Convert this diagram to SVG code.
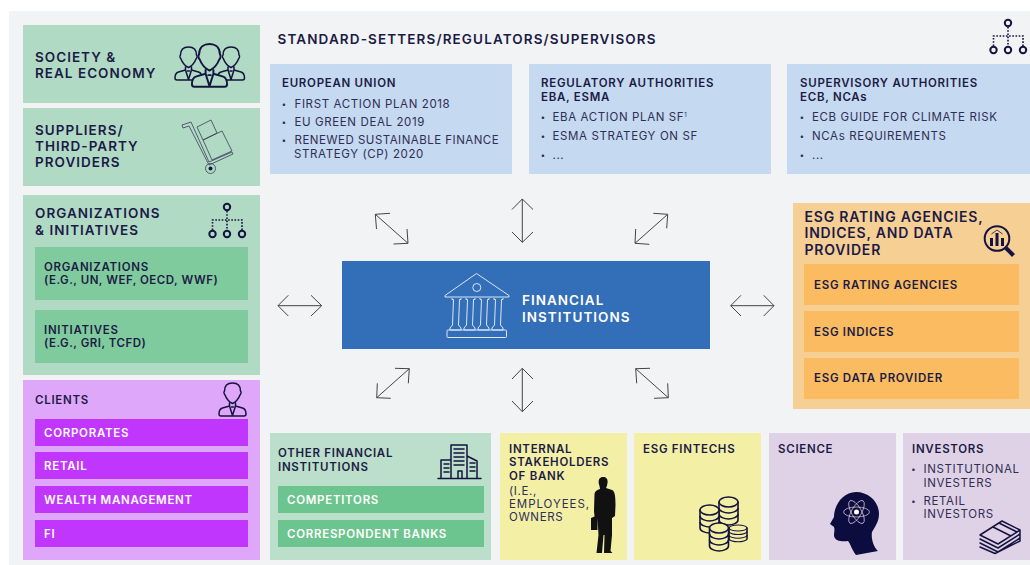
<svg xmlns="http://www.w3.org/2000/svg" width="1030" height="565" viewBox="0 0 1030 565">
<style>
text{font-family:Inter,"Liberation Sans",sans-serif;fill:#1c1b45;font-weight:600;font-size:11.5px;letter-spacing:.72px}
.h{font-size:13.5px;letter-spacing:1.02px}
.b{font-weight:400;fill:#2f2e55;letter-spacing:.62px}
.bu{font-weight:700;font-size:8px;fill:#2f2e55}
.n{letter-spacing:.5px}
.w{fill:#fff}
.i{fill:none;stroke:#15133f;stroke-width:1.5;stroke-linejoin:round;stroke-linecap:round}
.p{stroke:#15133f;stroke-width:1.5;stroke-linejoin:round;stroke-linecap:round}
.c{fill:#f3f0a6;stroke:#15133f;stroke-width:1.6;stroke-linejoin:round}
.o{fill:none;stroke:#15133f;stroke-width:2}
.d{fill:none;stroke:#15133f;stroke-width:1.6;stroke-dasharray:1.6 1.6}
.a{fill:none;stroke:#444;stroke-width:1}
</style>
<defs>
<g id="org"><circle cx="18" cy="4" r="3.200" class="o"/><circle cx="3.500" cy="31" r="3.200" class="o"/><circle cx="18" cy="31" r="3.200" class="o"/><circle cx="33" cy="31" r="3.200" class="o"/><path class="d" d="M18 8V27M3.500 27V17H33V27"/></g>
<g id="person"><path class="p" d="M-8 -9C-8 -15 -4 -17 0 -17S8 -15 8 -9C9 -8 8.500 -6 7.500 -5C6 -1 3 2 0 3.500C-3 2 -6 -1 -7.500 -5C-8.500 -6 -9 -8 -8 -9ZM-3 3V6L-10 8C-13.500 9 -13.500 12 -13.500 14Q-13.500 16 -11.500 16H11.500Q13.500 16 13.500 14C13.500 12 13.500 9 10 8L3 6V3M-3 6L0 15.500L3 6M-1 7H1"/></g>
<g id="coin"><path class="c" d="M-9.500 0V18C-9.500 21 -4 23 0 23S9.500 21 9.500 18V0Z"/><ellipse cx="0" cy="0" rx="9.500" ry="5" class="c"/><path class="c" style="fill:none" d="M-9.500 6C-9.500 9 -4 11 0 11S9.500 9 9.500 6M-9.500 12C-9.500 15 -4 17 0 17S9.500 15 9.500 12"/></g>
</defs>

<rect x="9" y="11" width="1021" height="554" fill="#f1f3f5"/>

<g id="society"><rect x="23" y="25" width="237" height="78" fill="#b1dac5"/>
<text class="h" x="35" y="62">SOCIETY &amp;</text><text class="h" x="35" y="78">REAL ECONOMY</text>
<use href="#person" transform="translate(188.500 64)" fill="none"/><use href="#person" transform="translate(231 64)" fill="none"/><use href="#person" transform="translate(209.500 66) scale(1.300)" fill="#b1dac5"/></g>

<g id="suppliers"><rect x="23" y="108" width="237" height="78" fill="#b1dac5"/>
<text class="h" x="35" y="135">SUPPLIERS/</text><text class="h" x="35" y="151">THIRD-PARTY</text><text class="h" x="35" y="167">PROVIDERS</text>
<g fill="none" stroke="#3c3c58" stroke-width=".8" stroke-linejoin="round"><path d="M182 125L191 122L209 162L232 152L233 154L209 165L189 126L183 128Z"/><path d="M197 127L211 120L217 133L203 140ZM203 140L222 131L232 151L212 160Z"/><circle cx="210.500" cy="168.500" r="5"/></g><circle cx="210.500" cy="168.500" r="2" fill="#15133f"/></g>

<g id="organizations"><rect x="23" y="195" width="237" height="180" fill="#b1dac5"/>
<text class="h" x="35" y="218">ORGANIZATIONS</text><text class="h" x="35" y="235">&amp; INITIATIVES</text>
<use href="#org" transform="translate(209 203)"/>
<rect x="35" y="247" width="213" height="53" fill="#80cb9e"/><text x="44" y="271">ORGANIZATIONS</text><text class="n" x="44" y="284">(E.G., UN, WEF, OECD, WWF)</text>
<rect x="35" y="310" width="213" height="53" fill="#80cb9e"/><text x="44" y="334">INITIATIVES</text><text class="n" x="44" y="347">(E.G., GRI, TCFD)</text></g>

<g id="clients"><rect x="23" y="380" width="237" height="180" fill="#dfa7f9"/>
<text x="35" y="404">CLIENTS</text><use href="#person" transform="translate(232.500 400)" fill="none"/>
<rect x="35" y="419" width="213" height="27" fill="#c136fd"/><text class="w" x="44" y="437">CORPORATES</text>
<rect x="35" y="452" width="213" height="27" fill="#c136fd"/><text class="w" x="44" y="470">RETAIL</text>
<rect x="35" y="486" width="213" height="27" fill="#c136fd"/><text class="w" x="44" y="504">WEALTH MANAGEMENT</text>
<rect x="35" y="520" width="213" height="27" fill="#c136fd"/><text class="w" x="44" y="538">FI</text></g>

<g id="standard-setters"><text class="h" x="277.500" y="44" style="letter-spacing:1.12px">STANDARD-SETTERS/REGULATORS/SUPERVISORS</text><use href="#org" transform="translate(990 19)"/></g>

<g id="eu"><rect x="270" y="64" width="242" height="110" fill="#c5d9f0"/>
<text x="282" y="87">EUROPEAN UNION</text>
<text class="bu" x="282" y="106.500">•</text><text class="b" x="294.500" y="108">FIRST ACTION PLAN 2018</text>
<text class="bu" x="282" y="124.500">•</text><text class="b" x="294.500" y="126">EU GREEN DEAL 2019</text>
<text class="bu" x="282" y="142.500">•</text><text class="b" x="294.500" y="144" style="letter-spacing:.48px">RENEWED SUSTAINABLE FINANCE</text><text class="b" x="294" y="158">STRATEGY (CP) 2020</text></g>

<g id="regulatory"><rect x="529" y="64" width="242" height="110" fill="#c5d9f0"/>
<text x="541" y="87">REGULATORY AUTHORITIES</text><text x="541" y="101">EBA, ESMA</text>
<text class="bu" x="541" y="120">•</text><text class="b" x="552.500" y="121">EBA ACTION PLAN SF<tspan font-size="6" dy="-4">1</tspan></text>
<text class="bu" x="541" y="139">•</text><text class="b" x="552.500" y="140">ESMA STRATEGY ON SF</text>
<text class="bu" x="541" y="158">•</text><text class="b" x="552.500" y="159">...</text></g>

<g id="supervisory"><rect x="787" y="64" width="243" height="110" fill="#c5d9f0"/>
<text x="800" y="87">SUPERVISORY AUTHORITIES</text><text x="800" y="101">ECB, NCAs</text>
<text class="bu" x="800" y="120">•</text><text class="b" x="812" y="121">ECB GUIDE FOR CLIMATE RISK</text>
<text class="bu" x="800" y="139">•</text><text class="b" x="812" y="140">NCAs REQUIREMENTS</text>
<text class="bu" x="800" y="158">•</text><text class="b" x="812" y="159">...</text></g>

<g id="financial-institutions"><rect x="342" y="261" width="368" height="88" fill="#336eb8"/>
<g fill="none" stroke="#dbe6f5" stroke-width="1"><path d="M476.500 273.500L445 295.500V297H509V295.500Z"/><circle cx="476.800" cy="287.500" r="4"/><rect x="447" y="330" width="59.500" height="7.500" rx="1"/>
<path d="M452 298V299.500H453.500L452.500 325L450 328V330H461V328L458.500 325L459.500 299.500H461V298M466 298V299.500H467.500L466.500 325L464 328V330H475V328L472.500 325L473.500 299.500H475V298M480 298V299.500H481.500L480.500 325L478 328V330H489V328L486.500 325L487.500 299.500H489V298M494 298V299.500H495.500L494.500 325L492 328V330H503V328L500.500 325L501.500 299.500H503V298"/></g>
<text class="h w" x="522" y="305">FINANCIAL</text><text class="h w" x="522" y="322">INSTITUTIONS</text></g>

<g id="esg-rating"><rect x="793" y="203" width="237" height="206" fill="#f6cf95"/>
<text class="h" x="804.500" y="222" style="font-size:14px;letter-spacing:.8px">ESG RATING AGENCIES,</text><text class="h" x="804.500" y="238" style="font-size:14px;letter-spacing:.8px">INDICES, AND DATA</text><text class="h" x="804.500" y="255" style="font-size:14px;letter-spacing:.8px">PROVIDER</text>
<circle cx="997" cy="238.500" r="12.300" fill="none" stroke="#15133f" stroke-width="2"/><path d="M1006 248L1013.500 255.500" stroke="#15133f" stroke-width="4"/><path d="M991.500 246V238M997 246V233M1002.500 246V238" stroke="#15133f" stroke-width="3"/><path d="M991.500 234L997 230L1002.500 234" fill="none" stroke="#15133f" stroke-width=".8"/>
<rect x="804" y="264" width="215" height="41" fill="#fbbb60"/><text x="814" y="289">ESG RATING AGENCIES</text>
<rect x="804" y="311" width="215" height="41" fill="#fbbb60"/><text x="814" y="336">ESG INDICES</text>
<rect x="804" y="358" width="215" height="41" fill="#fbbb60"/><text x="814" y="382">ESG DATA PROVIDER</text></g>

<g id="other-financial"><rect x="270" y="433" width="221" height="127" fill="#bbdfca"/>
<text x="278" y="457">OTHER FINANCIAL</text><text x="278" y="471">INSTITUTIONS</text>
<path class="i" stroke-width="1.200" d="M438 478.500H481M441 478V460H451M451 478V445H467V478M467 456L477 461V478M458 478V471H462V478M444 464H449M444 468H449M444 472H449M454 449H464M454 453H464M454 457H464M454 461H464M454 465H464M470 463H475M470 467H475M470 471H475"/>
<rect x="278" y="486" width="206" height="27" fill="#6cc48e"/><text class="w" x="287" y="504">COMPETITORS</text>
<rect x="278" y="520" width="206" height="27" fill="#6cc48e"/><text class="w" x="287" y="538">CORRESPONDENT BANKS</text></g>

<g id="internal-stakeholders"><rect x="500" y="433" width="127" height="127" fill="#f3f0a6"/>
<text x="509" y="453">INTERNAL</text><text x="509" y="466">STAKEHOLDERS</text><text x="509" y="480">OF BANK</text>
<text class="b" x="509" y="495">(I.E.,</text><text class="b" x="509" y="508" style="letter-spacing:.95px">EMPLOYEES,</text><text class="b" x="509" y="521">OWNERS</text>
<path fill="#111" d="M603 477C607 477 608 480 607.500 483C607 486 606.500 487 606 488L612 490C615 491 615.500 497 615.500 505L615 516L612 518L612 535L610.500 551L612.500 553H604L604.500 535H603.500L602 553H596.500L598.500 535L597.500 518H597.500V530H591V518L594.500 516.500L594 511L594.500 494C595 491 597 490 600 489L599.500 486C598 483 598 477 603 477Z"/></g>

<g id="esg-fintechs"><rect x="634" y="433" width="127" height="127" fill="#f3f0a6"/>
<text x="643" y="453">ESG FINTECHS</text>
<use href="#coin" transform="translate(728.500 502)"/><use href="#coin" transform="translate(709.500 510)"/><use href="#coin" transform="translate(738 528) scale(.95 .6)"/><use href="#coin" transform="translate(719 528)"/></g>

<g id="science"><rect x="769" y="433" width="127" height="127" fill="#e0d2e6"/>
<text x="778" y="453">SCIENCE</text>
<path fill="#0d0c3e" d="M856 492C869 492 879 502 879 514C879 522 874 528 872 532C871 538 873 546 878 551L856 555C853 552 850 543 848 541C842 542 835 541 834 536C834 532 835 530 834 527L830 524L834 517C834 505 843 492 856 492Z"/>
<g fill="none" stroke="#e0d2e6" stroke-width=".7"><ellipse cx="856.500" cy="512" rx="13" ry="5"/><ellipse cx="856.500" cy="512" rx="13" ry="5" transform="rotate(60 856.500 512)"/><ellipse cx="856.500" cy="512" rx="13" ry="5" transform="rotate(-60 856.500 512)"/></g><circle cx="856.500" cy="512" r="2.500" fill="#fff"/></g>

<g id="investors"><rect x="903" y="433" width="127" height="127" fill="#e0d2e6"/>
<text x="912" y="453">INVESTORS</text>
<text class="bu" x="911.500" y="472">•</text><text class="b" x="923.500" y="473">INSTITUTIONAL</text><text class="b" x="923.500" y="487">INVESTERS</text>
<text class="bu" x="911.500" y="504">•</text><text class="b" x="923.500" y="505">RETAIL</text><text class="b" x="923.500" y="518">INVESTORS</text>
<path class="i" stroke-width="1" d="M980 535L1002 521L1020 530L998 544ZM980 539L998 548L1020 534V530M980 543L998 552L1020 538V534M980 547L995 553.500L1020 541V538M993 527L1011 536M999 523L1017 532"/></g>

<g id="connectors" class="a">
<path d="M375.300 214.300L408 243.300M390 213.300L375.300 214.300L376.500 229M393.500 244L408 243.300L407 229"/>
<path d="M522.300 199V242.300M512 209.500L522.300 199L533 209.500M512 232L522.300 242.300L533 232"/>
<path d="M667.700 214.300L635 243.300M653.300 213.300L667.700 214.300L666.700 228.300M649.300 244.300L635 243.300L635.700 229"/>
<path d="M278 305.700H321.700M288.300 295.300L278 305.700L288.300 316M311 295.300L321.700 305.700L311 316"/>
<path d="M730.700 305.700H774M741 295.300L730.700 305.700L741 316M763.700 295.300L774 305.700L763.700 316"/>
<path d="M409.300 368.700L376.700 397.700M395 368.300L409.300 368.700L408.300 383.300M390.700 398.300L376.700 397.700L377.300 383.300"/>
<path d="M522.300 368.300V411.700M512 379L522.300 368.300L533 379M512 401L522.300 411.700L533 401"/>
<path d="M635.700 368.700L668.300 397.700M650 368.300L635.700 368.700L636.700 383.300M654 398.300L668.300 397.700L667.700 383.300"/>
</g>
</svg>
